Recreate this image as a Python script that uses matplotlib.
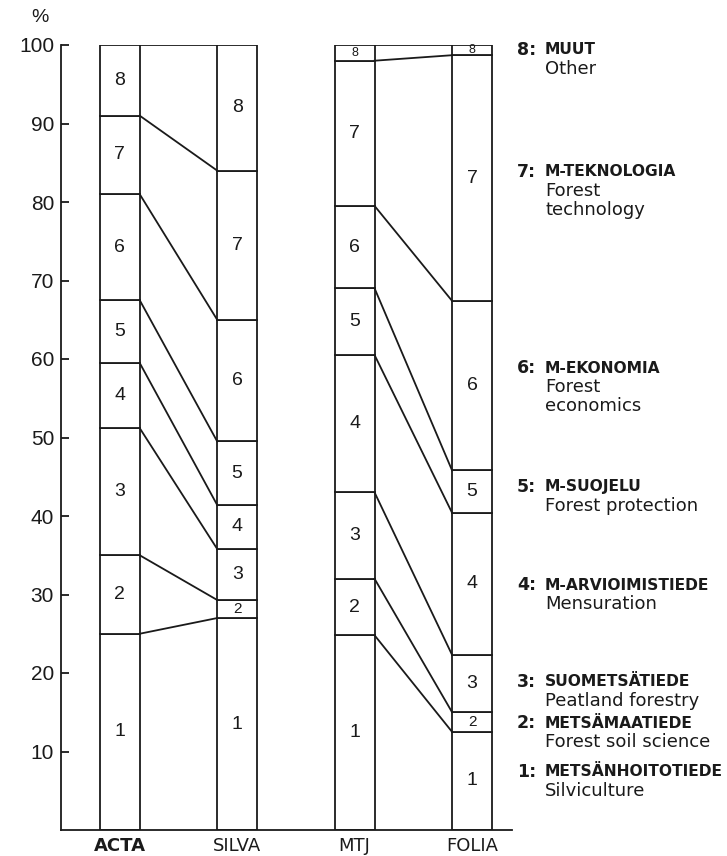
import numpy as np
import matplotlib.pyplot as plt

plt.rcParams['font.family'] = ['Liberation Sans', 'DejaVu Sans']

journals = ['ACTA', 'SILVA', 'MTJ', 'FOLIA']
codes = ['1', '2', '3', '4', '5', '6', '7', '8']

# shares (%) of fields 1..8 per journal
acta = [25.0, 10.0, 16.2, 8.3, 8.0, 13.5, 10.0, 9.0]
silva = [27.0, 2.3, 6.5, 5.6, 8.1, 15.5, 19.0, 16.0]
mtj = [24.8, 7.2, 11.0, 17.5, 8.5, 10.5, 18.5, 2.0]
folia = [12.5, 2.5, 7.3, 18.1, 5.4, 21.6, 31.3, 1.3]

fi_names = ['METSÄNHOITOTIEDE', 'METSÄMAATIEDE', 'SUOMETSÄTIEDE', 'M-ARVIOIMISTIEDE',
            'M-SUOJELU', 'M-EKONOMIA', 'M-TEKNOLOGIA', 'MUUT']
en_names = ['Silviculture', 'Forest soil science', 'Peatland forestry', 'Mensuration',
            'Forest protection', 'Forest\neconomics', 'Forest\ntechnology', 'Other']

shares = np.array([acta, silva, mtj, folia])
tops = np.cumsum(shares, axis=1)
bottoms = tops - shares

W, H = 727, 856
fig = plt.figure(figsize=(W / 100, H / 100), dpi=100)
ax = fig.add_axes([61 / W, 26 / H, 451 / W, 785 / H])

x = np.arange(len(journals))
bw = 0.34
lc = '#1a1a1a'

for j in range(len(journals)):
    ax.bar(x[j], shares[j], bottom=bottoms[j], width=bw, facecolor='white',
           edgecolor=lc, linewidth=1.3, zorder=2)
    for k in range(len(codes)):
        h = shares[j][k]
        fs = 14 if h > 4 else (11 if h > 2 else 9)
        ax.text(x[j], bottoms[j][k] + h / 2, codes[k], ha='center', va='center',
                fontsize=fs, color=lc, zorder=3)

# lines joining the class borders of neighbouring bars
for a, b in [(0, 1), (2, 3)]:
    for k in range(len(codes)):
        ax.plot([x[a] + bw / 2, x[b] - bw / 2], [tops[a][k], tops[b][k]],
                color=lc, linewidth=1.3, zorder=2)

ax.set_xlim(-0.5, 3.34)
ax.set_ylim(0, 100)
ax.set_yticks(np.arange(10, 101, 10))
ax.tick_params(axis='y', direction='in', length=6, width=1.3, labelsize=15, pad=5, colors=lc)
ax.set_xticks(x)
ax.set_xticklabels(journals, fontsize=13, family='DejaVu Sans')
ax.get_xticklabels()[0].set_fontweight('bold')
ax.tick_params(axis='x', length=0, pad=5, colors=lc)
for s in ['top', 'right']:
    ax.spines[s].set_visible(False)
for s in ['left', 'bottom']:
    ax.spines[s].set_linewidth(1.3)
    ax.spines[s].set_color(lc)

fig.text(40 / W, 1 - 18 / H, '%', fontsize=14, ha='center', va='center', color=lc)

# legend on the right (pixel y of the heading line)
label_y = [772, 723, 682, 585, 487, 368, 172, 50]
for k in range(len(codes)):
    py = label_y[k]
    fig.text(536 / W, 1 - py / H, codes[k] + ':', fontsize=12.5, fontweight='bold',
             ha='right', va='center', family='DejaVu Sans', color=lc)
    fig.text(545 / W, 1 - py / H, fi_names[k], fontsize=11.2, fontweight='bold',
             ha='left', va='center', family='DejaVu Sans', color=lc)
    for i, line in enumerate(en_names[k].split('\n')):
        fig.text(545 / W, 1 - (py + 19 * (i + 1)) / H, line, fontsize=13,
                 ha='left', va='center', family='DejaVu Sans', color=lc)

fig.savefig('out.png', dpi=100, facecolor='white')
